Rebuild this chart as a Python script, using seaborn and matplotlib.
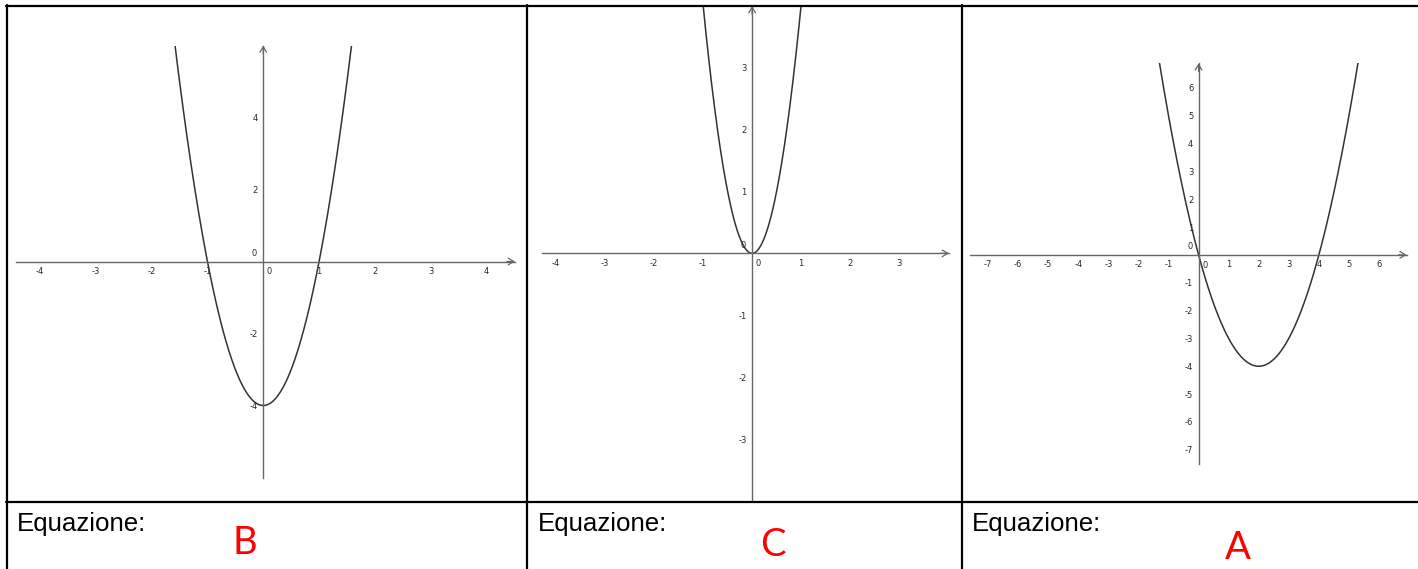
import numpy as np
import pandas as pd
import matplotlib
matplotlib.use("Agg")
import matplotlib.pyplot as plt
from matplotlib.lines import Line2D
import seaborn as sns

# ---------------- data ----------------
panel_letters = ["B", "C", "A"]
# parabola coefficients y = a*x^2 + b*x + c for each panel
coef_a = [4, 4, 1]
coef_b = [0, 0, -4]
coef_c = [-4, 0, 0]
# tick labels shown on each panel (0 handled separately)
xticks_p1 = [-4, -3, -2, -1, 1, 2, 3, 4]
yticks_p1 = [-4, -2, 2, 4]
xticks_p2 = [-4, -3, -2, -1, 1, 2, 3]
yticks_p2 = [-3, -2, -1, 1, 2, 3]
xticks_p3 = [-7, -6, -5, -4, -3, -2, -1, 1, 2, 3, 4, 5, 6]
yticks_p3 = [-7, -6, -5, -4, -3, -2, -1, 1, 2, 3, 4, 5, 6]
row_label = "Equazione:"

# ---------------- layout ----------------
W, H = 1418, 569
sns.set_style("white")
plt.rcParams["font.family"] = ["DejaVu Sans"]
plt.rcParams["axes.unicode_minus"] = False

fig = plt.figure(figsize=(W / 100, H / 100), dpi=100)
fig.patch.set_facecolor("white")


def box(l, r, t, b):
    return [l / W, 1 - b / H, (r - l) / W, (b - t) / H]


panels = [
    dict(box=box(16, 515, 45.5, 477.5), xlim=(-4.43, 4.51), ylim=(-6.0, 6.0),
         xt=xticks_p1, yt=yticks_p1),
    dict(box=box(542, 949, 6, 500.7), xlim=(-4.29, 4.02), ylim=(-3.99, 3.99),
         xt=xticks_p2, yt=yticks_p2),
    dict(box=box(970, 1406.7, 63.3, 463.7), xlim=(-7.6, 6.92), ylim=(-7.5, 6.88),
         xt=xticks_p3, yt=yticks_p3),
]

axis_col = "#666666"
curve_col = "#333333"
label_col = "#2a2a2a"

for i, p in enumerate(panels):
    ax = fig.add_axes(p["box"])
    ax.set_facecolor("none")
    ax.set_xlim(*p["xlim"])
    ax.set_ylim(*p["ylim"])

    xs = np.linspace(p["xlim"][0], p["xlim"][1], 1200)
    ys = coef_a[i] * xs ** 2 + coef_b[i] * xs + coef_c[i]
    df = pd.DataFrame({"x": xs, "y": ys})
    sns.lineplot(data=df, x="x", y="y", ax=ax, color=curve_col, lw=1.1,
                 sort=False, estimator=None)
    ax.set_xlabel("")
    ax.set_ylabel("")

    for s in ("top", "right"):
        ax.spines[s].set_visible(False)
    ax.spines["left"].set_position(("data", 0))
    ax.spines["bottom"].set_position(("data", 0))
    for s in ("left", "bottom"):
        ax.spines[s].set_color(axis_col)
        ax.spines[s].set_linewidth(1.0)

    ax.set_xticks(p["xt"])
    ax.set_yticks(p["yt"])
    ax.set_xticklabels([str(v) for v in p["xt"]])
    ax.set_yticklabels([str(v) for v in p["yt"]])
    ax.tick_params(axis="both", direction="out", length=2.2, width=0.8,
                   color=axis_col, labelsize=6, labelcolor=label_col, pad=1.6)

    # origin labels
    ax.annotate("0", xy=(0, 0), xytext=(4.5, -4.2), textcoords="offset points",
                ha="center", va="top", fontsize=6, color=label_col)
    ax.annotate("0", xy=(0, 0), xytext=(-4.5, 2.5), textcoords="offset points",
                ha="right", va="bottom", fontsize=6, color=label_col)

    # arrow heads at the positive ends
    ax.annotate("", xy=(1, 0), xycoords=("axes fraction", "data"),
                xytext=(-6, 0), textcoords="offset points",
                arrowprops=dict(arrowstyle="->,head_length=0.5,head_width=0.3",
                                color=axis_col, lw=0.9,
                                shrinkA=0, shrinkB=0, mutation_scale=8))
    ax.annotate("", xy=(0, 1), xycoords=("data", "axes fraction"),
                xytext=(0, -6), textcoords="offset points",
                arrowprops=dict(arrowstyle="->,head_length=0.5,head_width=0.3",
                                color=axis_col, lw=0.9,
                                shrinkA=0, shrinkB=0, mutation_scale=8))

# ---------------- table borders ----------------
def hline(y, x0, x1):
    fig.add_artist(Line2D([x0 / W, x1 / W], [1 - y / H, 1 - y / H],
                          color="black", lw=1.6, transform=fig.transFigure))


def vline(x, y0, y1):
    fig.add_artist(Line2D([x / W, x / W], [1 - y0 / H, 1 - y1 / H],
                          color="black", lw=1.6, transform=fig.transFigure))


hline(5.5, 6, W)
hline(502.3, 6, W)
vline(7, 4.5, H)
vline(527, 4.5, H)
vline(962, 4.5, H)

# ---------------- bottom row texts ----------------
text_x = [16.5, 537.5, 971.5]
letter_x = [244.7, 773.0, 1237.5]
letter_base = [554.3, 555.8, 559.0]
for i in range(3):
    fig.text(text_x[i] / W, 1 - 530.7 / H, row_label, ha="left", va="baseline",
             fontsize=18.6, color="black", family=["Liberation Sans", "DejaVu Sans"])
    fig.text(letter_x[i] / W, 1 - letter_base[i] / H, panel_letters[i],
             ha="center", va="baseline", fontsize=27.5, color="#ff0000",
             family=["Lato", "DejaVu Sans"])

fig.savefig("out.png", dpi=100, facecolor="white")
